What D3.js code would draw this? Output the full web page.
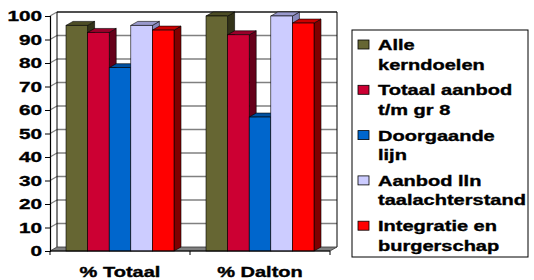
<!DOCTYPE html>
<html>
<head>
<meta charset="utf-8">
<script src="https://cdn.jsdelivr.net/npm/d3@7"></script>
<style>
  body { margin: 0; background: #fff; }
  svg { display: block; font-family: "Liberation Sans", Arial, sans-serif; font-weight: bold; }
  text { stroke: #000; stroke-width: 0.35px; }
</style>
</head>
<body>
<svg id="chart" width="534" height="280"></svg>
<script>
const categories = ['% Totaal', '% Dalton'];
const seriesNames = ['Alle kerndoelen', 'Totaal aanbod t/m gr 8', 'Doorgaande lijn', 'Aanbod lln taalachterstand', 'Integratie en burgerschap'];
const legendLines = [['Alle', 'kerndoelen'], ['Totaal aanbod', 't/m gr 8'], ['Doorgaande', 'lijn'], ['Aanbod lln', 'taalachterstand'], ['Integratie en', 'burgerschap']];
const totaalValues = [96, 93, 78, 96, 94];
const daltonValues = [100, 92, 57, 100, 97];
const yTicks = [0, 10, 20, 30, 40, 50, 60, 70, 80, 90, 100];

// front, top, side colours per series
const fronts = ['#666633', '#CC0033', '#0066CC', '#CCCCFF', '#FF0000'];
const tops = ['#4d4d26', '#99002a', '#0050a0', '#9999cc', '#cc0000'];
const sides = ['#333319', '#66001a', '#003366', '#8888bb', '#800000'];

const svg = d3.select('#chart');
const dx = 7, dy = -4;
const x0 = 50, x1 = 330;
const stretch = 1.43; // the original text is drawn wide

const y = d3.scaleLinear().domain([0, 100]).range([251, 16]);
const xBand = d3.scaleBand().domain(categories).range([x0, x1]);
const xInner = d3.scaleBand().domain(seriesNames).range([0, 108]);

const values = [totaalValues, daltonValues];

function wideText(x, yy, str, size, anchor) {
  return svg.append('text')
    .attr('transform', `translate(${x},${yy}) scale(${stretch},1)`)
    .attr('text-anchor', anchor || 'start')
    .attr('font-size', size)
    .text(str);
}

// side wall + back wall gridlines
yTicks.forEach(t => {
  if (t === 0) return;
  svg.append('line').attr('x1', x0).attr('y1', y(t)).attr('x2', x0 + dx).attr('y2', y(t) + dy)
    .attr('stroke', '#808080').attr('stroke-width', 1.3);
  svg.append('line').attr('x1', x0 + dx).attr('y1', y(t) + dy).attr('x2', x1 + dx).attr('y2', y(t) + dy)
    .attr('stroke', '#808080').attr('stroke-width', 1.3);
});

// back wall border
svg.append('path')
  .attr('d', `M${x0 + dx},${y(0) + dy}V${y(100) + dy}H${x1 + dx}V${y(0) + dy}`)
  .attr('fill', 'none').attr('stroke', '#000').attr('stroke-width', 1);

// floor
svg.append('path')
  .attr('d', `M${x0},${y(0)}L${x0 + dx},${y(0) + dy}H${x1 + dx}L${x1},${y(0)}Z`)
  .attr('fill', '#808080').attr('stroke', '#333').attr('stroke-width', 0.8);

// bars
categories.forEach((c, ci) => {
  const gx = xBand(c) + (xBand.bandwidth() - 108) / 2;
  seriesNames.forEach((s, si) => {
    const v = values[ci][si];
    const bx = gx + xInner(s);
    const bw = xInner.bandwidth();
    const top = y(v), bot = y(0);
    svg.append('path')
      .attr('d', `M${bx + bw},${bot}L${bx + bw + dx},${bot + dy}V${top + dy}L${bx + bw},${top}Z`)
      .attr('fill', sides[si]).attr('stroke', '#000').attr('stroke-width', 0.6);
    svg.append('path')
      .attr('d', `M${bx},${top}L${bx + dx},${top + dy}H${bx + bw + dx}L${bx + bw},${top}Z`)
      .attr('fill', tops[si]).attr('stroke', '#000').attr('stroke-width', 0.6);
    svg.append('rect')
      .attr('x', bx).attr('y', top).attr('width', bw).attr('height', bot - top)
      .attr('fill', fronts[si]).attr('stroke', '#000').attr('stroke-width', 0.6);
  });
});

// y axis
const yAxis = svg.append('g').attr('transform', `translate(${x0},0)`)
  .call(d3.axisLeft(y).tickValues(yTicks).tickSize(5).tickFormat(''));
yAxis.select('.domain').attr('stroke', '#000').attr('stroke-width', 1.2);
yAxis.selectAll('.tick line').attr('stroke', '#000');
yTicks.forEach(t => wideText(x0 - 8, y(t) + 5, String(t), 14.5, 'end'));

// x axis
svg.append('line').attr('x1', x0).attr('y1', y(0)).attr('x2', x1).attr('y2', y(0))
  .attr('stroke', '#000');
[x0, x0 + xBand.step(), x1].forEach(px => {
  svg.append('line').attr('x1', px).attr('y1', y(0)).attr('x2', px).attr('y2', y(0) + 4)
    .attr('stroke', '#000');
});
categories.forEach(c => wideText(xBand(c) + xBand.bandwidth() / 2, 277, c, 14, 'middle'));

// legend
svg.append('rect').attr('x', 352).attr('y', 30).attr('width', 176).attr('height', 227)
  .attr('fill', '#fff').attr('stroke', '#000').attr('stroke-width', 1);
legendLines.forEach((lines, i) => {
  const cy = 45 + i * 45.3;
  svg.append('rect').attr('x', 358).attr('y', cy - 5).attr('width', 11).attr('height', 9)
    .attr('fill', fronts[i]).attr('stroke', '#000').attr('stroke-width', 0.8);
  lines.forEach((t, li) => wideText(378, cy + 5 + li * 19.5, t, 14));
});
</script>
</body>
</html>
